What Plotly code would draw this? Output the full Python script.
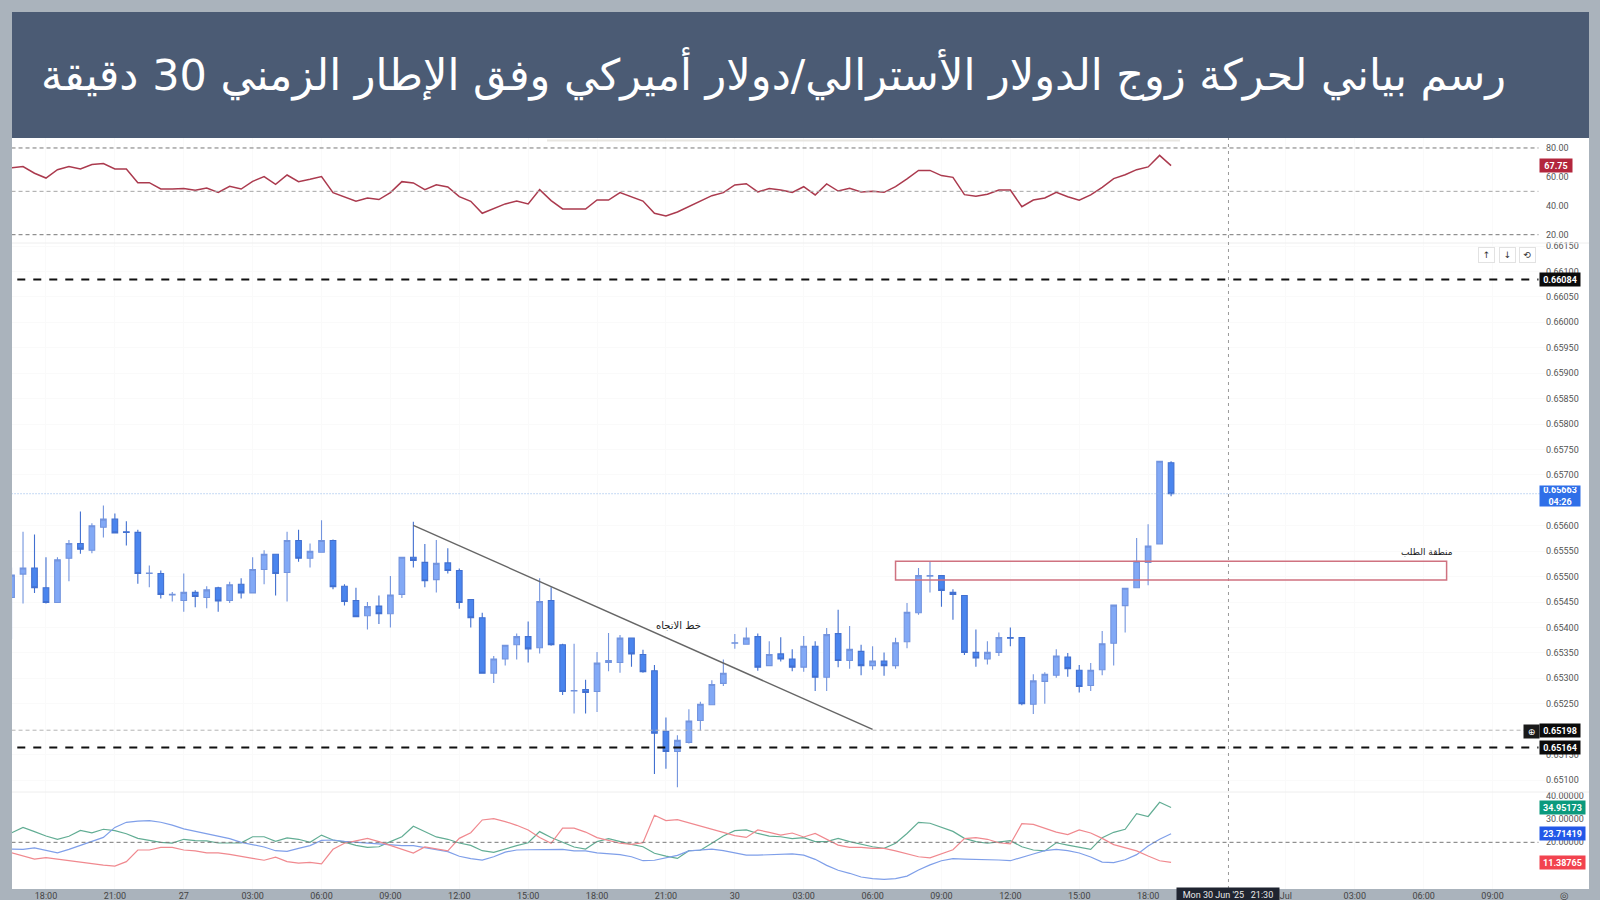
import plotly.graph_objects as go

candle_index = list(range(-3, 99))
opens = [0.65459,0.65505,0.65517,0.65478,0.65449,0.65536,0.65565,0.65552,0.65597,0.65613,
0.65588,0.65587,0.65506,0.65506,0.65464,0.65453,0.65469,0.65459,0.65478,0.65453,
0.65485,0.65468,0.65514,0.65544,0.65508,0.65571,0.65536,0.65548,0.65571,0.65481,
0.65453,0.65423,0.65442,0.65427,0.65465,0.65538,0.65528,0.65494,0.65527,0.65512,
0.65455,0.65419,0.65310,0.65338,0.65366,0.65382,0.65360,0.65453,0.65366,0.65275,
0.65278,0.65274,0.65331,0.65331,0.65379,0.65347,0.65315,0.65196,0.65156,0.65174,
0.65217,0.65248,0.65290,0.65369,0.65367,0.65382,0.65325,0.65348,0.65338,0.65322,
0.65363,0.65302,0.65388,0.65335,0.65353,0.65325,0.65334,0.65325,0.65372,0.65429,
0.65501,0.65502,0.65469,0.65463,0.65351,0.65338,0.65351,0.65380,0.65380,0.65249,
0.65294,0.65306,0.65342,0.65316,0.65286,0.65317,0.65369,0.65443,0.65478,0.65528,
0.65564,0.65724]
highs = [0.65518,0.65588,0.65583,0.65538,0.65538,0.65572,0.65628,0.65605,0.65640,0.65624,
0.65609,0.65592,0.65522,0.65512,0.65470,0.65506,0.65473,0.65481,0.65480,0.65490,
0.65497,0.65538,0.65552,0.65544,0.65588,0.65592,0.65565,0.65611,0.65573,0.65485,
0.65478,0.65450,0.65463,0.65501,0.65539,0.65608,0.65564,0.65572,0.65556,0.65516,
0.65455,0.65429,0.65344,0.65366,0.65388,0.65412,0.65497,0.65479,0.65368,0.65368,
0.65297,0.65352,0.65389,0.65385,0.65379,0.65356,0.65326,0.65223,0.65188,0.65239,
0.65254,0.65296,0.65337,0.65387,0.65400,0.65388,0.65373,0.65381,0.65357,0.65383,
0.65373,0.65399,0.65435,0.65403,0.65366,0.65363,0.65351,0.65380,0.65448,0.65517,
0.65530,0.65502,0.65475,0.65463,0.65396,0.65373,0.65390,0.65400,0.65380,0.65308,
0.65312,0.65357,0.65350,0.65326,0.65330,0.65393,0.65444,0.65477,0.65576,0.65603,
0.65727,0.65727]
lows = [0.65377,0.65447,0.65468,0.65447,0.65449,0.65491,0.65545,0.65546,0.65577,0.65585,
0.65561,0.65486,0.65479,0.65457,0.65451,0.65431,0.65440,0.65438,0.65431,0.65448,
0.65457,0.65467,0.65485,0.65463,0.65451,0.65529,0.65518,0.65547,0.65475,0.65443,
0.65420,0.65396,0.65407,0.65400,0.65458,0.65518,0.65479,0.65469,0.65506,0.65437,
0.65400,0.65310,0.65291,0.65325,0.65337,0.65331,0.65349,0.65364,0.65267,0.65231,
0.65231,0.65234,0.65314,0.65311,0.65323,0.65311,0.65112,0.65122,0.65086,0.65172,
0.65197,0.65247,0.65285,0.65358,0.65366,0.65315,0.65325,0.65333,0.65314,0.65313,
0.65275,0.65275,0.65322,0.65319,0.65306,0.65317,0.65305,0.65319,0.65359,0.65425,
0.65469,0.65441,0.65415,0.65346,0.65323,0.65327,0.65344,0.65363,0.65247,0.65230,
0.65250,0.65301,0.65303,0.65272,0.65275,0.65306,0.65325,0.65390,0.65478,0.65483,
0.65564,0.65658]
closes = [0.65503,0.65517,0.65478,0.65449,0.65533,0.65565,0.65554,0.65600,0.65613,0.65586,
0.65587,0.65506,0.65507,0.65465,0.65465,0.65469,0.65461,0.65474,0.65452,0.65484,
0.65468,0.65514,0.65544,0.65506,0.65571,0.65536,0.65550,0.65571,0.65480,0.65451,
0.65421,0.65441,0.65427,0.65464,0.65538,0.65532,0.65492,0.65526,0.65512,0.65449,
0.65419,0.65310,0.65338,0.65365,0.65382,0.65358,0.65451,0.65366,0.65274,0.65276,
0.65272,0.65330,0.65335,0.65379,0.65348,0.65313,0.65192,0.65156,0.65178,0.65216,
0.65249,0.65288,0.65310,0.65370,0.65379,0.65322,0.65347,0.65338,0.65322,0.65363,
0.65302,0.65386,0.65335,0.65357,0.65325,0.65334,0.65325,0.65370,0.65430,0.65502,
0.65502,0.65473,0.65465,0.65351,0.65340,0.65351,0.65380,0.65379,0.65250,0.65295,
0.65308,0.65344,0.65319,0.65284,0.65316,0.65368,0.65444,0.65477,0.65530,0.65560,
0.65727,0.65663]

rsi = [66.2,67.1,62.5,59.2,65.0,67.1,65.5,68.5,69.2,65.5,
65.5,56.0,56.0,51.6,51.6,51.9,50.7,52.3,49.3,53.5,
51.6,56.9,60.2,54.9,61.3,56.7,58.3,60.2,49.1,46.1,
43.1,45.4,44.3,49.1,56.7,55.8,51.2,54.6,53.0,46.3,
43.1,34.8,38.3,41.3,43.3,41.3,51.2,43.6,37.8,37.8,
37.8,44.0,44.0,49.1,46.3,43.3,34.8,33.0,35.7,39.6,
43.3,47.0,49.1,54.4,55.3,49.6,51.9,50.9,49.3,53.2,
47.5,55.1,50.2,52.1,49.6,50.0,49.3,53.2,58.6,64.5,
64.5,60.9,59.7,47.7,46.6,48.0,50.9,50.9,39.4,44.0,
45.4,49.3,46.3,43.8,47.5,52.8,58.8,61.5,65.0,66.9,
74.9,67.75]

adx_green = [24.1,26.4,24.6,22.7,21.3,22.6,25.1,24.1,25.6,25.0,
23.7,21.7,20.8,20.0,19.7,21.3,20.7,20.6,19.7,19.8,
19.8,22.4,22.4,20.4,21.9,21.3,20.0,23.1,21.0,20.1,
18.7,17.8,18.1,20.3,22.4,26.9,24.6,22.3,21.3,19.7,
18.7,16.4,15.7,17.3,18.6,19.8,24.6,22.1,20.0,18.0,
17.1,20.3,21.6,20.3,19.1,18.1,15.3,14.1,13.1,16.4,
16.6,19.6,22.7,25.0,25.3,23.8,22.7,22.4,21.6,22.0,
20.3,20.3,21.7,20.3,19.1,18.1,17.4,19.6,23.8,28.6,
28.2,26.3,24.7,21.7,20.3,19.6,20.3,20.7,18.1,16.7,
16.3,19.8,18.8,17.8,17.0,22.0,24.3,25.6,32.3,31.1,
37.2,34.95]
adx_blue = [17.1,17.0,17.6,16.5,15.5,17.0,18.8,20.3,22.1,26.4,
28.6,29.1,29.3,28.6,27.4,25.8,24.7,23.8,22.8,21.6,
20.0,19.1,18.0,16.4,16.1,17.4,18.6,20.8,21.0,20.4,
20.0,19.6,19.1,18.8,18.6,18.6,17.8,17.0,16.0,14.0,
13.0,12.4,13.8,15.8,16.7,16.8,16.8,16.8,17.0,16.3,
16.3,15.5,15.1,14.7,13.8,12.1,12.3,13.3,14.4,16.3,
16.8,17.1,16.4,15.3,14.5,14.5,14.7,15.0,15.0,14.5,
12.7,10.1,8.0,6.7,5.1,4.4,4.1,4.4,5.5,8.1,
10.3,12.1,13.0,12.8,12.7,12.7,12.4,12.1,13.4,15.0,
16.4,17.0,16.4,15.4,13.7,11.5,11.3,12.5,14.7,18.4,
21.3,23.71]
adx_red = [15.5,14.1,12.8,13.4,12.7,12.0,11.3,10.8,10.2,9.8,
11.7,16.7,16.7,17.8,17.8,16.7,16.3,15.5,15.5,14.8,
14.1,13.1,12.3,13.6,11.7,11.1,11.4,10.8,17.0,19.6,
20.6,21.7,20.3,18.6,17.1,15.4,18.0,17.1,16.3,21.7,
24.1,29.6,30.2,28.9,27.3,25.3,22.1,19.6,26.1,26.1,
24.4,22.0,20.7,19.6,19.1,19.8,31.6,29.3,29.7,28.3,
26.9,25.7,24.4,22.9,22.1,25.3,24.3,23.1,24.0,22.3,
23.8,21.4,18.8,17.8,17.8,17.4,17.4,16.3,15.1,13.8,
13.3,15.0,16.8,21.6,22.0,21.3,19.8,19.3,28.0,27.7,
26.0,24.4,23.3,25.3,24.0,21.7,19.0,17.6,16.3,14.1,
12.1,11.39]

tick_positions = [0,6,12,18,24,30,36,42,48,54,60,66,72,78,84,90,96,108,114,120,126]
tick_labels = ["18:00","21:00","27","03:00","06:00","09:00","12:00","15:00","18:00","21:00",
               "30","03:00","06:00","09:00","12:00","15:00","18:00","Jul","03:00","06:00","09:00"]
price_ticks = [0.66150,0.66100,0.66050,0.66000,0.65950,0.65900,0.65850,0.65800,0.65750,0.65700,
               0.65600,0.65550,0.65500,0.65450,0.65400,0.65350,0.65300,0.65250,0.65150,0.65100]
rsi_ticks = [20,40,60,80]
adx_ticks = [20,30,40]
title_text = "رسم بياني لحركة زوج الدولار الأسترالي/دولار أميركي وفق الإطار الزمني 30 دقيقة"
zone_label = "منطقة الطلب"
trend_label = "خط الاتجاه"
level_upper, level_lower, level_grey, last_price = 0.66084, 0.65164, 0.65198, 0.65663
zone_top, zone_bottom, zone_start, zone_end = 0.65530, 0.654933, 74, 122
trend_start = (32, 0.656008)
trend_end = (72, 0.651997)
trend_label_at = (55.1, 0.65404)
zone_label_at = (120.25, 0.65548)
cross_idx = 103

W, H = 1600, 900
BG = "#aab3bc"
def fx(px): return px / W
def fy(py): return 1 - py / H

fig = go.Figure()
fig.add_trace(go.Candlestick(
    x=candle_index, open=opens, high=highs, low=lows, close=closes,
    xaxis="x", yaxis="y2",
    increasing=dict(fillcolor="#82a9f6", line=dict(color="#7394de", width=1.1)),
    decreasing=dict(fillcolor="#4a85ee", line=dict(color="#4270d0", width=1.1)),
    whiskerwidth=0, showlegend=False, hoverinfo="skip"))
fig.add_trace(go.Scatter(x=candle_index, y=rsi, mode="lines", xaxis="x", yaxis="y",
    line=dict(color="#ab3a4e", width=1.5), showlegend=False, hoverinfo="skip"))
for vals, col in [(adx_green, "#62ad94"), (adx_blue, "#7f9fe9"), (adx_red, "#f0898f")]:
    fig.add_trace(go.Scatter(x=candle_index, y=vals, mode="lines", xaxis="x", yaxis="y3",
        line=dict(color=col, width=1.2), showlegend=False, hoverinfo="skip"))

shapes = [
    dict(type="rect", xref="paper", yref="paper", x0=fx(12), x1=fx(1589), y0=fy(889), y1=fy(137),
         fillcolor="white", line_width=0, layer="below"),
    dict(type="rect", xref="paper", yref="paper", x0=fx(12), x1=fx(1589), y0=fy(138), y1=fy(12),
         fillcolor="#4b5b74", line_width=0, layer="above"),
    dict(type="line", xref="paper", yref="paper", x0=fx(12), x1=fx(1589), y0=fy(243), y1=fy(243),
         line=dict(color="#eeeeee", width=1)),
    dict(type="line", xref="paper", yref="paper", x0=fx(12), x1=fx(1589), y0=fy(792), y1=fy(792),
         line=dict(color="#eeeeee", width=1)),
    dict(type="line", xref="paper", yref="paper", x0=fx(547), x1=fx(1180), y0=fy(140.5), y1=fy(140.5),
         line=dict(color="#e8e6e1", width=2)),
    dict(type="line", xref="x", yref="paper", x0=cross_idx, x1=cross_idx, y0=fy(889), y1=fy(138),
         line=dict(color="#9a9a9a", width=1, dash="3px,4px")),
]
for v in [80, 50, 20]:
    shapes.append(dict(type="line", xref="x", yref="y", x0=-3, x1=130, y0=v, y1=v,
                       line=dict(color="#a5a5a5" if v == 50 else "#777777", width=1, dash="4px,3px")))
shapes.append(dict(type="line", xref="x", yref="y3", x0=-3, x1=130, y0=20, y1=20,
                   line=dict(color="#777777", width=1, dash="4px,3px")))
for v in [level_upper, level_lower]:
    shapes.append(dict(type="line", xref="x", yref="y2", x0=-2.5, x1=130, y0=v, y1=v,
                       line=dict(color="#111111", width=2, dash="8px,8px")))
shapes.append(dict(type="line", xref="x", yref="y2", x0=-3, x1=129.5, y0=level_grey, y1=level_grey,
                   line=dict(color="#b5b5b5", width=1, dash="4px,3px")))
shapes.append(dict(type="line", xref="x", yref="y2", x0=-3, x1=131, y0=last_price, y1=last_price,
                   line=dict(color="#8db4e8", width=1, dash="1px,2px")))
shapes.append(dict(type="rect", xref="x", yref="y2", x0=zone_start, x1=zone_end, y0=zone_bottom, y1=zone_top,
                   line=dict(color="#cf7280", width=1.5), fillcolor="rgba(0,0,0,0)"))
shapes.append(dict(type="line", xref="x", yref="y2", x0=trend_start[0], x1=trend_end[0],
                   y0=trend_start[1], y1=trend_end[1], line=dict(color="#666666", width=1.4)))

FONT = "Roboto, sans-serif"
def note(x, y, text, xref="paper", yref="paper", **kw):
    kw.setdefault("xanchor", "center")
    kw.setdefault("yanchor", "middle")
    return dict(xref=xref, yref=yref, x=x, y=y, text=text, showarrow=False, **kw)

ann = [note(fx(773), fy(74), title_text, font=dict(family="DejaVu Sans", size=43, color="white")),
       note(trend_label_at[0], trend_label_at[1], trend_label, "x", "y2",
            font=dict(family="DejaVu Sans", size=10, color="#1a1a1a")),
       note(zone_label_at[0], zone_label_at[1], zone_label, "x", "y2",
            font=dict(family="DejaVu Sans", size=9, color="#1a1a1a")),
       note(fx(1228), fy(894.5), "Mon 30 Jun '25   21:30", width=100, height=11, bgcolor="#1f2430",
            font=dict(family=FONT, size=9, color="#e8e8e8"))]

def tag(text, yref, y, bg, width, height=11):
    ann.append(note(fx(1539), y, text, "paper", yref, xanchor="left", bgcolor=bg, borderpad=1,
                    width=width, height=height, align="center",
                    font=dict(family=FONT, size=9, color="white")))
tag("<b>0.66084</b>", "y2", level_upper, "#0b0b0b", 38)
tag("<b>0.65198</b>", "y2", level_grey, "#0b0b0b", 38)
tag("<b>0.65164</b>", "y2", level_lower, "#0b0b0b", 38)
tag("<b>0.65663</b><br><b>04:26</b>", "y2", last_price - 0.00005, "#2f6fe8", 38, 18)
tag("<b>67.75</b>", "y", rsi[-1], "#b3263d", 30)
tag("<b>34.95173</b>", "y3", adx_green[-1], "#0b9a7d", 43)
tag("<b>23.71419</b>", "y3", adx_blue[-1], "#2358e8", 43)
tag("<b>11.38765</b>", "y3", adx_red[-1], "#f2434f", 43)
for px, ch in [(1486, "↑"), (1507, "↓"), (1527, "⟲")]:
    ann.append(note(fx(px), fy(254.5), ch, width=13, height=12, bordercolor="#e2e2e2", borderwidth=1,
                    bgcolor="white", font=dict(family="DejaVu Sans", size=9, color="#333333")))
ann.append(note(fx(1531), fy(731), "⊕", width=13, height=11, bgcolor="#1a1a1a",
                font=dict(family="DejaVu Sans", size=9, color="white")))
ann.append(note(fx(1564), fy(895.5), "◎", font=dict(family="DejaVu Sans", size=10, color="#444444")))

axis_font = dict(family=FONT, size=9, color="#555555")
fig.update_layout(
    width=W, height=H, margin=dict(l=0, r=0, t=0, b=0),
    paper_bgcolor=BG, plot_bgcolor="white", showlegend=False,
    shapes=shapes, annotations=ann,
    xaxis=dict(domain=[fx(12), fx(1545)], range=[-2.96, 130.57], anchor="y3",
               tickmode="array", tickvals=tick_positions, ticktext=tick_labels,
               showgrid=True, gridcolor="#fafafa", zeroline=False, showline=False, ticks="",
               rangeslider=dict(visible=False), tickfont=dict(family=FONT, size=9, color="#444444"),
               automargin=False, tickangle=0),
    yaxis=dict(domain=[fy(243), fy(138)], range=[14.26, 86.9], anchor="x", side="right",
               tickmode="array", tickvals=rsi_ticks, tickformat=".2f", tickfont=axis_font,
               showgrid=False, zeroline=False, automargin=False),
    yaxis2=dict(domain=[fy(792), fy(243)], range=[0.650765, 0.66156], anchor="x", side="right",
                tickmode="array", tickvals=price_ticks, tickformat=".5f", tickfont=axis_font,
                showgrid=True, gridcolor="#fafafa", zeroline=False, automargin=False),
    yaxis3=dict(domain=[fy(889), fy(792)], range=[-0.04, 41.6], anchor="x", side="right",
                tickmode="array", tickvals=adx_ticks, tickformat=".5f", tickfont=axis_font,
                showgrid=False, zeroline=False, automargin=False),
)
fig.write_html("out.html", config=dict(displayModeBar=False), post_script="document.body.style.margin='0';")
